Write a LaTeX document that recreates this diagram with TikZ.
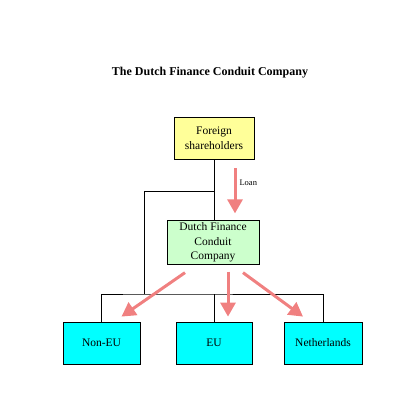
\documentclass[tikz,border=0pt]{standalone}
\usepackage{fontspec}
\setmainfont{Liberation Serif}
\usepackage{tikz}
\usetikzlibrary{arrows.meta,positioning,calc}
\usepackage{xcolor}
\definecolor{ink}{RGB}{0,0,0}
\definecolor{lemon}{RGB}{255,255,153}
\definecolor{mint}{RGB}{204,255,204}
\definecolor{aqua}{RGB}{0,255,255}
\definecolor{flow}{RGB}{240,128,128}
\tikzset{
  box/.style={draw=ink,line width=0.8pt,inner sep=2pt,
    font=\fontsize{11.5}{14.5}\selectfont,align=center,minimum height=42pt},
  tree/.style={draw=ink,line width=0.8pt},
  arr/.style={-{Triangle[width=15pt,length=14pt]},line width=3pt,flow},
  lbl/.style={font=\fontsize{8.5}{9}\selectfont,text=ink,anchor=west},
}
\begin{document}
\begin{tikzpicture}[x=1pt,y=-1pt]
  \useasboundingbox (0,0) rectangle (420,420);
  \node[font=\fontsize{12}{14}\selectfont\bfseries] (title) at (210,73)
    {The Dutch Finance Conduit Company};
  \node[box,fill=lemon,minimum width=80pt] (fs) at (214,138) {Foreign\\ shareholders};
  \node[box,fill=mint,minimum width=92pt,minimum height=41pt] (dfc) at (213,242.5)
    {Dutch Finance\\ Conduit\\ Company};
  \node[box,fill=aqua,minimum width=77pt] (noneu) at (101.5,343) {Non-EU};
  \node[box,fill=aqua,minimum width=76pt] (eu) at (214,343) {EU};
  \node[box,fill=aqua,minimum width=78pt] (nl) at (323,343) {Netherlands};
  % ownership lines
  \coordinate (j1) at (fs.south |- 0,191);
  \coordinate (j2) at (144,294);
  \draw[tree] (fs.south) -- (fs.south |- dfc.north);
  \draw[tree] (j1) -| (j2);
  \draw[tree] (noneu.north) |- (j2) -| (nl.north);
  \draw[tree] (eu.north) -- (eu.north |- j2);
  % money flows
  \draw[arr] ([xshift=21pt,yshift=-9pt]fs.south) -- ([xshift=22pt,yshift=7pt]dfc.north);
  \node[lbl] (loan) at (236,183) {Loan};
  \draw[arr] ([xshift=-28pt,yshift=-8pt]dfc.south) -- ([xshift=20pt,yshift=5pt]noneu.north);
  \draw[arr] ([xshift=15pt,yshift=-7pt]dfc.south) -- ([xshift=14pt,yshift=5pt]eu.north);
  \draw[arr] ([xshift=30pt,yshift=-8pt]dfc.south) -- ([xshift=-20pt,yshift=5pt]nl.north);
\end{tikzpicture}
\end{document}
